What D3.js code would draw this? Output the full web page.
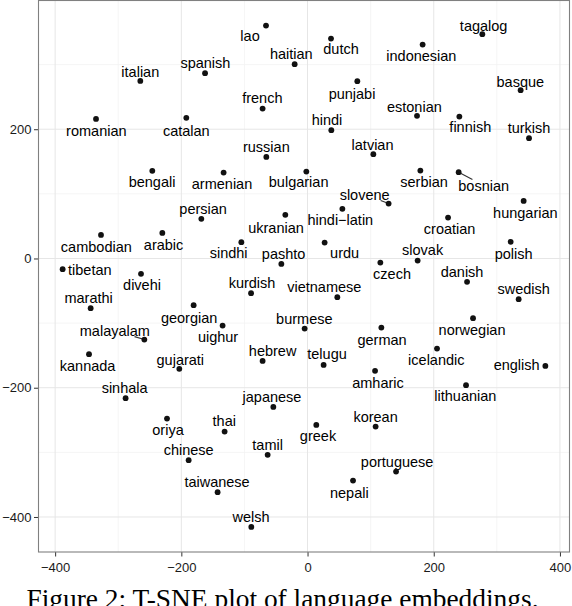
<!DOCTYPE html>
<html>
<head>
<meta charset="utf-8">
<script src="https://cdn.jsdelivr.net/npm/d3@7"></script>
<style>
html, body { margin: 0; padding: 0; background: #ffffff; }
svg { display: block; }
</style>
</head>
<body>
<svg id="chart" width="572" height="606"></svg>
<script>
// ---- data (t-SNE coordinates) ----
const languages = ["tagalog","lao","dutch","haitian","indonesian","italian","spanish","basque","punjabi","french",
  "estonian","romanian","catalan","hindi","finnish","turkish","latvian","russian","bengali","armenian",
  "bulgarian","serbian","bosnian","slovene","hungarian","persian","ukranian","hindi\u2212latin","croatian","cambodian",
  "arabic","sindhi","urdu","pashto","slovak","polish","tibetan","czech","divehi","kurdish",
  "danish","marathi","vietnamese","swedish","georgian","uighur","norwegian","malayalam","burmese","german",
  "kannada","gujarati","hebrew","telugu","icelandic","english","sinhala","amharic","lithuanian","japanese",
  "oriya","thai","korean","chinese","greek","tamil","portuguese","taiwanese","nepali","welsh"];

const tsneX = [277.0,-65.8,37.2,-20.4,182.4,-265.0,-162.4,337.7,78.9,-71.2,
  173.5,-335.2,-192.1,37.7,240.6,351.0,104.3,-65.3,-246.0,-133.0,
  -1.9,178.8,239.5,128.5,342.5,-168.3,-35.2,55.2,222.7,-327.3,
  -230.1,-104.9,27.1,-41.5,174.5,321.9,-388.1,115.4,-263.9,-89.5,
  252.8,-343.7,47.2,334.6,-180.5,-134.6,262.3,-258.6,-4.6,117.0,
  -346.3,-203.2,-71.2,25.5,205.2,376.9,-288.3,107.0,251.2,-54.2,
  -222.7,-131.4,107.9,-188.4,13.9,-63.2,140.3,-142.5,72.1,-89.1];

const tsneY = [347.1,360.4,340.3,300.7,331.0,274.8,286.8,260.4,274.4,232.0,
  220.7,216.0,217.6,198.5,219.6,186.2,161.4,157.2,135.6,132.9,
  134.5,136.0,133.5,85.0,89.1,61.3,67.5,76.8,63.3,36.5,
  39.6,25.2,24.6,-8.4,-3.2,25.7,-16.6,-6.3,-23.8,-53.7,
  -36.2,-76.9,-59.9,-63.0,-72.3,-103.8,-92.4,-125.5,-108.5,-106.9,
  -148.1,-170.8,-158.5,-164.7,-139.4,-166.2,-216.2,-173.9,-196.1,-229.7,
  -247.8,-267.9,-260.1,-312.1,-257.5,-303.9,-329.8,-361.6,-343.7,-415.4];

// repelled label anchor positions, in data units
const labelX = [279.1,-91.1,53.1,-25.7,180.4,-265.0,-161.9,337.2,70.5,-71.6,
  169.3,-334.7,-192.1,30.9,258.0,351.0,103.0,-65.3,-246.4,-135.5,
  -14.1,184.6,279.1,90.5,345.2,-165.5,-49.9,52.0,225.2,-334.7,
  -228.1,-125.0,58.8,-37.9,182.4,326.6,-345.0,133.9,-262.3,-88.0,
  244.9,-346.9,26.6,342.5,-187.6,-141.8,260.7,-305.4,-5.1,118.1,
  -348.5,-201.6,-55.3,30.9,204.1,331.4,-289.9,111.7,250.1,-56.3,
  -221.1,-131.9,107.8,-188.4,16.6,-63.2,142.0,-143.4,66.2,-89.5];

const labelY = [360.4,344.5,324.4,316.6,313.5,288.8,302.7,273.8,254.3,248.1,
  235.1,197.9,197.9,214.5,204.1,202.6,176.3,172.2,118.5,115.4,
  118.1,118.5,112.8,98.9,70.1,76.8,46.9,59.7,45.3,18.4,
  20.6,8.2,8.2,6.7,13.3,7.1,-18.1,-23.8,-41.3,-38.2,
  -20.3,-61.4,-44.4,-47.0,-91.5,-120.9,-110.5,-111.6,-93.5,-126.4,
  -165.7,-156.9,-143.5,-147.6,-156.9,-164.7,-200.7,-192.0,-212.2,-214.6,
  -265.2,-251.8,-244.7,-296.7,-274.5,-288.5,-314.3,-345.7,-362.3,-399.4];

const leaderLines = ["bosnian", "slovene", "malayalam"];

const xTicks = [-400, -200, 0, 200, 400];
const yTicks = [-400, -200, 0, 200, 400];
const xMinorTicks = [-300, -100, 100, 300];
const yMinorTicks = [-300, -100, 100, 300];
const captionText = "Figure 2: T-SNE plot of language embeddings.";

// ---- layout ----
const panel = { left: 38.5, right: 569.5, top: 0.5, bottom: 552 };

function expand(ext) {
  const pad = (ext[1] - ext[0]) * 0.05;
  return [ext[0] - pad, ext[1] + pad];
}
const xDomain = expand(d3.extent(tsneX));
const yDomain = expand(d3.extent(tsneY));

const x = d3.scaleLinear().domain(xDomain).range([panel.left, panel.right]);
const y = d3.scaleLinear().domain(yDomain).range([panel.bottom, panel.top]);

const svg = d3.select("#chart");
svg.append("rect").attr("width", 572).attr("height", 606).attr("fill", "#fff");

const inX = v => v >= xDomain[0] && v <= xDomain[1];
const inY = v => v >= yDomain[0] && v <= yDomain[1];

const grid = svg.append("g");
// minor grid
grid.selectAll("line.xminor").data(xMinorTicks.filter(inX)).join("line")
  .attr("x1", d => x(d)).attr("x2", d => x(d))
  .attr("y1", panel.top).attr("y2", panel.bottom)
  .attr("stroke", "#f2f2f2").attr("stroke-width", 0.8);
grid.selectAll("line.yminor").data(yMinorTicks.filter(inY)).join("line")
  .attr("y1", d => y(d)).attr("y2", d => y(d))
  .attr("x1", panel.left).attr("x2", panel.right)
  .attr("stroke", "#f2f2f2").attr("stroke-width", 0.8);
// major grid
grid.selectAll("line.xmajor").data(xTicks.filter(inX)).join("line")
  .attr("x1", d => x(d)).attr("x2", d => x(d))
  .attr("y1", panel.top).attr("y2", panel.bottom)
  .attr("stroke", "#e6e6e6").attr("stroke-width", 1);
grid.selectAll("line.ymajor").data(yTicks.filter(inY)).join("line")
  .attr("y1", d => y(d)).attr("y2", d => y(d))
  .attr("x1", panel.left).attr("x2", panel.right)
  .attr("stroke", "#e6e6e6").attr("stroke-width", 1);

// axes
const fmt = d => d < 0 ? "\u2212" + Math.abs(d) : String(d);
const xAxis = d3.axisBottom(x).tickValues(xTicks.filter(inX)).tickFormat(fmt).tickSize(4.5).tickPadding(3);
const yAxis = d3.axisLeft(y).tickValues(yTicks.filter(inY)).tickFormat(fmt).tickSize(4.5).tickPadding(2.5);

const gx = svg.append("g").attr("transform", `translate(0,${panel.bottom})`).call(xAxis);
const gy = svg.append("g").attr("transform", `translate(${panel.left},0)`).call(yAxis);
[gx, gy].forEach(g => {
  g.select(".domain").remove();
  g.selectAll(".tick line").attr("stroke", "#333").attr("stroke-width", 1);
  g.selectAll(".tick text")
    .attr("fill", "#1a1a1a")
    .style("font-family", "'Liberation Sans', Arial, Helvetica, sans-serif")
    .style("font-size", "13px");
});
gx.selectAll(".tick text").attr("dy", "0.95em");

// panel border
svg.append("rect")
  .attr("x", panel.left).attr("y", panel.top)
  .attr("width", panel.right - panel.left).attr("height", panel.bottom - panel.top)
  .attr("fill", "none").attr("stroke", "#808080").attr("stroke-width", 1.1);

// data rows
const rows = languages.map((name, i) => ({
  name, px: tsneX[i], py: tsneY[i], lx: labelX[i], ly: labelY[i]
}));

const marks = svg.append("g");
const segG = marks.append("g");
const labels = marks.append("g").selectAll("text").data(rows).join("text")
  .attr("x", d => x(d.lx)).attr("y", d => y(d.ly))
  .attr("dy", "0.35em")
  .attr("text-anchor", "middle")
  .attr("fill", "#000")
  .style("font-family", "'Liberation Sans', Arial, Helvetica, sans-serif")
  .style("font-size", "14.5px")
  .text(d => d.name);

// leader segments from point to label box edge
labels.each(function(d) {
  if (!leaderLines.includes(d.name)) return;
  const w = this.getComputedTextLength() / 2, h = 6;
  const cx = x(d.lx), cy = y(d.ly), sx = x(d.px), sy = y(d.py);
  const dx = cx - sx, dy = cy - sy;
  let t = 1;
  if (Math.abs(dx) > w) t = Math.min(t, (Math.abs(dx) - w) / Math.abs(dx));
  let tx = (Math.abs(dx) > w) ? (Math.abs(dx) - w) / Math.abs(dx) : 0;
  let ty = (Math.abs(dy) > h) ? (Math.abs(dy) - h) / Math.abs(dy) : 0;
  t = Math.max(tx, ty);
  segG.append("line")
    .attr("x1", sx).attr("y1", sy)
    .attr("x2", sx + dx * t).attr("y2", sy + dy * t)
    .attr("stroke", "#333").attr("stroke-width", 1.1);
});

marks.append("g").selectAll("circle").data(rows).join("circle")
  .attr("cx", d => x(d.px)).attr("cy", d => y(d.py))
  .attr("r", 2.9).attr("fill", "#111");

// caption
svg.append("text")
  .attr("x", 26.5).attr("y", 607.5)
  .attr("fill", "#000")
  .style("font-family", "'Liberation Serif', 'Times New Roman', Times, serif")
  .style("font-size", "27.4px")
  .text(captionText);
</script>
</body>
</html>
